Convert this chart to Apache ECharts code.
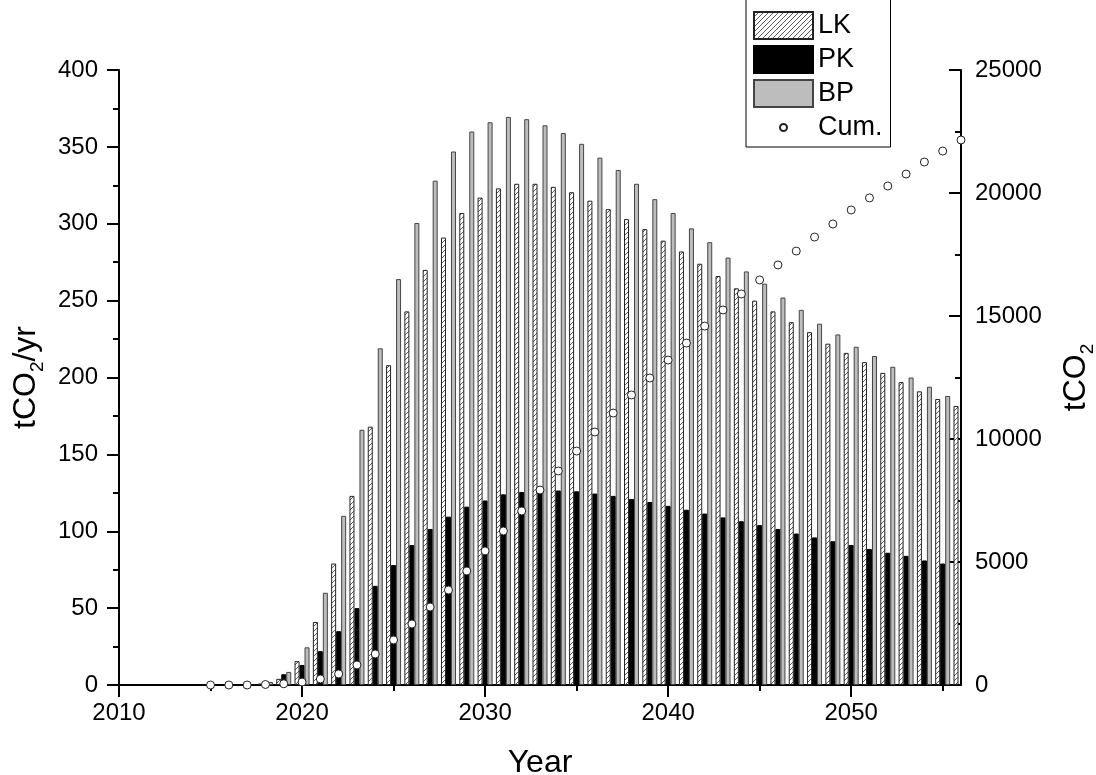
<!DOCTYPE html>
<html>
<head>
<meta charset="utf-8">
<script src="https://cdn.jsdelivr.net/npm/echarts@6/dist/echarts.min.js"></script>
<style>
    html, body { margin: 0; padding: 0; background: #fff; }
    #chart { width: 1096px; height: 775px; }
</style>
</head>
<body>
<div id="chart"></div>
<script>
// data (2056 PK/BP fall behind the right axis, not visible)
var years = [2015, 2016, 2017, 2018, 2019, 2020, 2021, 2022, 2023, 2024, 2025, 2026, 2027, 2028,
    2029, 2030, 2031, 2032, 2033, 2034, 2035, 2036, 2037, 2038, 2039, 2040, 2041, 2042,
    2043, 2044, 2045, 2046, 2047, 2048, 2049, 2050, 2051, 2052, 2053, 2054, 2055, 2056];
var lk = [null, null, null, 1, 4, 15.5, 41, 79, 123, 168, 208, 243, 270, 291,
    307, 317, 323, 326, 326, 324, 320.5, 315, 309.5, 303, 296.5, 289, 282, 274,
    266, 258, 250, 243, 236, 229.5, 222, 216, 210, 203, 197, 191, 186, 181.5];
var pk = [null, null, null, 0.5, 7, 13, 22, 35, 50, 64.5, 78, 91, 101.5, 109.5,
    116, 120, 124, 125.5, 126, 126.5, 126, 124.5, 123, 121, 119, 116.5, 114, 111.5,
    109, 106.5, 104, 101.5, 98.5, 96, 93.5, 91, 88.5, 86, 84, 81, 79, null];
var bp = [null, null, null, 2, 8.5, 24.5, 60, 110, 166, 219, 264, 300.5, 328, 347,
    360, 366, 369.5, 368, 364, 359, 352, 343, 335, 326, 316, 307, 297, 288,
    278, 269, 261, 252, 244, 235, 228, 220, 214, 207, 200, 194, 188, null];
var cum = [0, 0, 0, 20, 50, 120, 245, 450, 815, 1260, 1830, 2480, 3170, 3860,
    4635, 5450, 6260, 7075, 7925, 8700, 9510, 10285, 11055, 11790, 12480, 13210, 13900, 14590,
    15245, 15895, 16465, 17075, 17640, 18210, 18740, 19310, 19800, 20285, 20770, 21260, 21705, 22155];
var xMajor = [2010, 2020, 2030, 2040, 2050];
var xMinor = [2015, 2025, 2035, 2045, 2055];

var font = 'Arial, "Liberation Sans", sans-serif';

function pairs(vals) {
    return years.map(function (y, i) { return [y, vals[i]]; });
}
function plain(v) {
    return String(v);
}

// diagonal hatch for LK
function hatch() {
    var c = document.createElement('canvas');
    c.width = 5; c.height = 5;
    var g = c.getContext('2d');
    g.fillStyle = '#fff';
    g.fillRect(0, 0, 5, 5);
    g.strokeStyle = '#333';
    g.lineWidth = 0.8;
    g.beginPath();
    g.moveTo(0, 5); g.lineTo(5, 0);
    g.moveTo(-1, 1); g.lineTo(1, -1);
    g.moveTo(4, 6); g.lineTo(6, 4);
    g.stroke();
    return c;
}
var hatchFill = { image: hatch(), repeat: 'repeat' };

// small circle inside a 59x27 box for the legend
var cumIcon = 'path://M0,0M59,0M0,27M59,27M33,13.5A3.5,3.5,0,1,1,26,13.5A3.5,3.5,0,1,1,33,13.5Z';

var subRich = {
    sub: { fontSize: 19, fontFamily: font, color: '#000', lineHeight: 42, verticalAlign: 'bottom' }
};

var myChart = echarts.init(document.getElementById('chart'));

var option = {
    animation: false,
    backgroundColor: '#fff',
    textStyle: { fontFamily: font, color: '#000' },
    grid: { left: 119, right: 135, top: 70, bottom: 90, containLabel: false, outerBoundsMode: 'none' },
    legend: {
        orient: 'vertical',
        left: 746,
        top: -8,
        padding: [19, 8, 5, 7],
        itemWidth: 59,
        itemHeight: 27,
        itemGap: 5,
        borderColor: '#000',
        borderWidth: 1,
        selectedMode: false,
        textStyle: { fontSize: 27, color: '#000', fontFamily: font },
        data: [
            { name: 'LK', icon: 'rect' },
            { name: 'PK', icon: 'rect' },
            { name: 'BP', icon: 'rect' },
            { name: 'Cum.', icon: cumIcon }
        ]
    },
    xAxis: [{
        type: 'value',
        min: 2010,
        max: 2056,
        name: 'Year',
        nameLocation: 'middle',
        nameGap: 62,
        nameTextStyle: { fontSize: 32, color: '#000', fontFamily: font },
        axisLine: { onZero: false, lineStyle: { color: '#000', width: 2 } },
        axisTick: { length: 12, customValues: xMajor, lineStyle: { color: '#000', width: 2 } },
        axisLabel: { customValues: xMajor, formatter: plain, margin: 16, fontSize: 24, color: '#000', fontFamily: font },
        splitLine: { show: false }
    }, {
        type: 'value',
        min: 2010,
        max: 2056,
        position: 'bottom',
        axisLine: { show: false, onZero: false },
        axisTick: { length: 6, customValues: xMinor, lineStyle: { color: '#000', width: 2 } },
        axisLabel: { show: false },
        splitLine: { show: false }
    }],
    yAxis: [{
        type: 'value',
        min: 0,
        max: 400,
        interval: 50,
        name: 'tCO{sub|2}/yr',
        nameLocation: 'middle',
        nameRotate: 90,
        nameGap: 72,
        nameTextStyle: { fontSize: 32, color: '#000', fontFamily: font, rich: subRich },
        axisLine: { show: true, lineStyle: { color: '#000', width: 2 } },
        axisTick: { length: 12, lineStyle: { color: '#000', width: 2 } },
        minorTick: { show: true, splitNumber: 2, length: 6, lineStyle: { color: '#000', width: 2 } },
        axisLabel: { formatter: plain, margin: 21, fontSize: 24, color: '#000', fontFamily: font },
        splitLine: { show: false }
    }, {
        type: 'value',
        position: 'right',
        min: 0,
        max: 25000,
        interval: 5000,
        name: 'tCO{sub|2}',
        nameLocation: 'middle',
        nameRotate: 90,
        nameGap: 94,
        nameTextStyle: { fontSize: 32, color: '#000', fontFamily: font, rich: subRich },
        axisLine: { show: true, lineStyle: { color: '#000', width: 2 } },
        axisTick: { inside: true, length: 12, lineStyle: { color: '#000', width: 2 } },
        minorTick: { show: true, splitNumber: 2, length: 6, lineStyle: { color: '#000', width: 2 } },
        axisLabel: { formatter: plain, margin: 14, fontSize: 24, color: '#000', fontFamily: font },
        splitLine: { show: false }
    }],
    series: [{
        name: 'LK',
        type: 'bar',
        barWidth: 5,
        barGap: '0%',
        data: pairs(lk),
        itemStyle: { color: hatchFill, borderColor: '#222', borderWidth: 1 }
    }, {
        name: 'PK',
        type: 'bar',
        barWidth: 5,
        barGap: '0%',
        data: pairs(pk),
        itemStyle: { color: '#000', borderColor: '#000', borderWidth: 1 }
    }, {
        name: 'BP',
        type: 'bar',
        barWidth: 5,
        barGap: '0%',
        data: pairs(bp),
        itemStyle: { color: '#bdbdbd', borderColor: '#444', borderWidth: 1 }
    }, {
        name: 'Cum.',
        type: 'scatter',
        yAxisIndex: 1,
        symbol: 'circle',
        symbolSize: 8,
        z: 5,
        data: pairs(cum),
        itemStyle: { color: '#fff', borderColor: '#222', borderWidth: 1, opacity: 1 }
    }]
};
myChart.setOption(option);
</script>
</body>
</html>
